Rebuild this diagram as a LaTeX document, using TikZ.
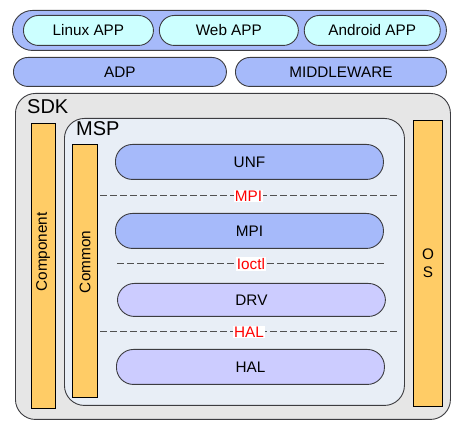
\documentclass[tikz,border=0pt]{standalone}
\usepackage{fontspec}
\setmainfont{Liberation Sans}
\usepackage{xcolor}
\usetikzlibrary{positioning,calc}
\definecolor{skedge}{RGB}{60,60,64}
\definecolor{skblue}{RGB}{166,186,250}
\definecolor{skcyan}{RGB}{204,255,255}
\definecolor{sklav}{RGB}{204,204,255}
\definecolor{skgray}{RGB}{230,230,230}
\definecolor{skmsp}{RGB}{232,238,246}
\definecolor{skbar}{RGB}{255,204,102}
\definecolor{skdash}{RGB}{80,80,80}
\tikzset{
  skbox/.style={
    draw=skedge, line width=0.9pt, align=center, inner sep=0pt,
    font=\fontsize{15.3}{18}\selectfont, anchor=north west
  },
  grp/.style={skbox, fill=skblue, rounded corners=20pt},
  app/.style={skbox, fill=skcyan, rounded corners=15pt, minimum height=30pt},
  mid/.style={skbox, fill=skblue, rounded corners=14.5pt, minimum height=29pt},
  unit/.style={skbox, fill=skblue, rounded corners=17pt, minimum height=35pt, minimum width=268pt},
  drv/.style={skbox, fill=sklav, rounded corners=17pt, minimum width=268pt},
  frame/.style={skbox, rounded corners=20pt},
  bar/.style={draw=black, line width=0.9pt, fill=skbar, inner sep=0pt, anchor=north west},
  title/.style={font=\fontsize{20}{24}\selectfont, anchor=north west, inner sep=0pt},
  txt/.style={font=\fontsize{15.3}{18}\selectfont, inner sep=0pt, align=center},
  sep/.style={draw=skdash, line width=1pt, dash pattern=on 6.5pt off 3.5pt},
  iface/.style={txt, text=red, fill=white, inner sep=1pt}
}
\begin{document}
\begin{tikzpicture}[x=1pt, y=-1pt, node distance=5pt]
  \useasboundingbox (0,0) rectangle (469,430);
  % applications
  \node[grp, minimum width=434pt, minimum height=40pt] (apps) at (12,10) {};
  \node[app, minimum width=130pt] (linux) at (23,15) {Linux APP};
  \node[app, minimum width=139pt, right=5pt of linux.north east, anchor=north west] (web) {Web APP};
  \node[app, minimum width=136pt, right=5pt of web.north east, anchor=north west] (android) {Android APP};
  % ADP / MIDDLEWARE
  \node[mid, minimum width=213pt] (adp) at (13,57) {ADP};
  \node[mid, minimum width=211pt] (mw) at (235,57) {MIDDLEWARE};
  % SDK
  \node[frame, fill=skgray, minimum width=435pt, minimum height=326pt] (sdk) at (15,93) {};
  \node[title] (sdkt) at (27,99) {SDK};
  \node[bar, minimum width=24pt, minimum height=285pt] (comp) at (31,123) {};
  \node[txt, rotate=90] (compt) at (43,252) {Component};
  \node[bar, minimum width=29pt, minimum height=286pt] (os) at (413,120) {};
  \node[txt] (ost) at (428,263) {O\\S};
  % MSP
  \node[frame, fill=skmsp, minimum width=340pt, minimum height=287pt] (msp) at (64,118) {};
  \node[title] (mspt) at (76,121) {MSP};
  \node[bar, minimum width=25pt, minimum height=253pt] (common) at (72,144) {};
  \node[txt, rotate=90] (commont) at (85,262) {Common};
  % layers
  \node[unit] (unf) at (115,144) {UNF};
  \node[unit] (mpi) at (115,213) {MPI};
  \node[drv, minimum height=33pt] (drvb) at (117,283) {DRV};
  \node[drv, minimum height=35pt] (halb) at (116,349) {HAL};
  % interfaces
  \coordinate (s1l) at (100,196);
  \coordinate (s1r) at (397,196);
  \coordinate (s2l) at (117,264);
  \coordinate (s2r) at (385,264);
  \coordinate (s3l) at (100,332);
  \coordinate (s3r) at (398,332);
  \draw[sep] (s1l) -- (s1r);
  \draw[sep] (s2l) -- (s2r);
  \draw[sep] (s3l) -- (s3r);
  \node[iface] (mpiif) at ($(s1l)!0.5!(s1r)$) {MPI};
  \node[iface] (ioctl) at ($(s2l)!0.5!(s2r)$) {Ioctl};
  \node[iface] (halif) at ($(s3l)!0.5!(s3r)$) {HAL};
\end{tikzpicture}
\end{document}
